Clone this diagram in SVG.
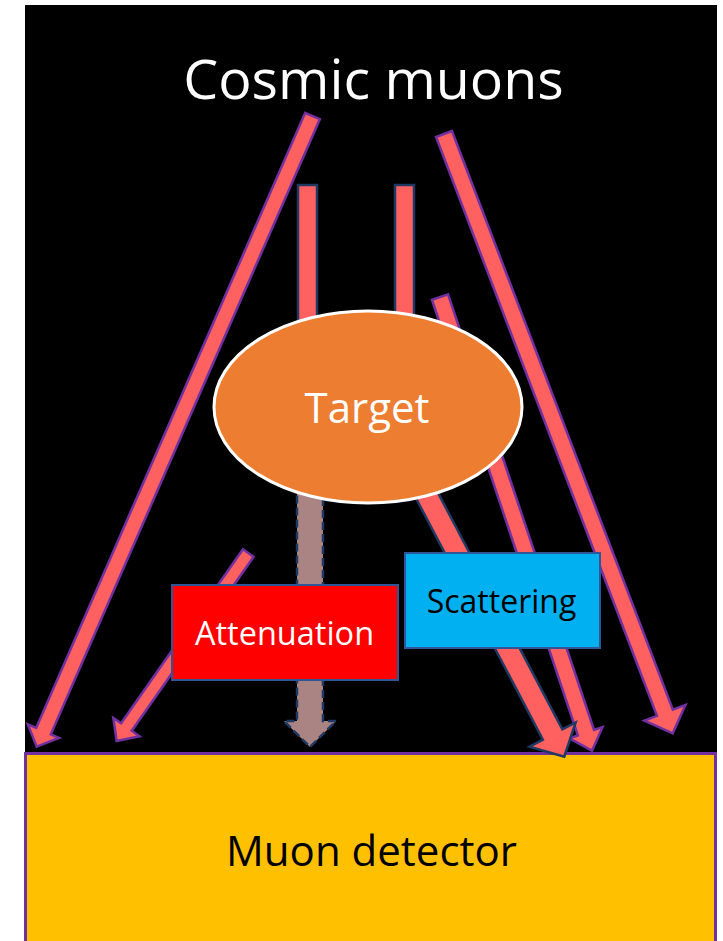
<svg xmlns="http://www.w3.org/2000/svg" width="723" height="941" viewBox="0 0 723 941">
  <style>
    .ray { fill: #FF6161; stroke: #7030A0; stroke-width: 2.5; stroke-linejoin: miter; }
    .rayn { fill: #FF6161; stroke: #1F3864; stroke-width: 2.5; }
    .brown { fill: #A98483; stroke: #1F3864; stroke-width: 2.5; stroke-dasharray: 8 4; }
    .box { stroke: #2F5597; stroke-width: 2; }
    text { font-family: "Open Sans", "Liberation Sans", sans-serif; text-anchor: middle; }
  </style>
  <rect x="25" y="5" width="692" height="760" fill="#000000"/>
  <g id="detector">
    <rect x="25.5" y="753.5" width="690" height="200" fill="#FFC000" stroke="#7030A0" stroke-width="3"/>
    <text x="371.5" y="866" font-size="42" fill="#000000">Muon detector</text>
  </g>
  <g id="title">
    <text x="373.5" y="98.5" font-size="55.5" fill="#FFFFFF">Cosmic muons</text>
  </g>
  <g id="connectors">
    <rect class="rayn" x="298" y="185" width="19" height="240"/>
    <rect class="rayn" x="395" y="185" width="19" height="240"/>
    <polygon class="ray" transform="translate(312.5,116) rotate(113.62)" points="0,-8 671.4,-8 671.4,-17 688.4,0 671.4,17 671.4,8 0,8"/>
    <polygon class="ray" transform="translate(444,134) rotate(69.11)" points="0,-8.5 619.5,-8.5 619.5,-22 641.5,0 619.5,22 619.5,8.5 0,8.5"/>
    <polygon class="ray" transform="translate(440,297) rotate(71.48)" points="0,-8.5 459.5,-8.5 459.5,-17.5 478.5,0 459.5,17.5 459.5,8.5 0,8.5"/>
    <polygon class="ray" transform="translate(248.3,553) rotate(125)" points="0,-6.5 212.5,-6.5 212.5,-16 229.5,0 212.5,16 212.5,6.5 0,6.5"/>
    <polygon class="rayn" transform="translate(392,429) rotate(62.27)" points="0,-11 345.2,-11 345.2,-26 370.2,0 345.2,26 345.2,11 0,11"/>
    <polygon class="brown" points="297,440 323,440 323,721 336,721 310,747 284,721 297,721"/>
  </g>
  <g id="target">
    <ellipse cx="368" cy="407" rx="154" ry="96" fill="#ED7D31" stroke="#FFFFFF" stroke-width="3"/>
    <text x="367" y="423" font-size="42" fill="#FFFFFF">Target</text>
  </g>
  <g id="attenuation">
    <rect class="box" x="172" y="585" width="226" height="95" fill="#FF0000"/>
    <text x="284.5" y="644.5" font-size="32.5" fill="#FFFFFF">Attenuation</text>
  </g>
  <g id="scattering">
    <rect class="box" x="405" y="553" width="195" height="95" fill="#00B0F0"/>
    <text x="501.5" y="612.7" font-size="32" fill="#000000">Scattering</text>
  </g>
</svg>
